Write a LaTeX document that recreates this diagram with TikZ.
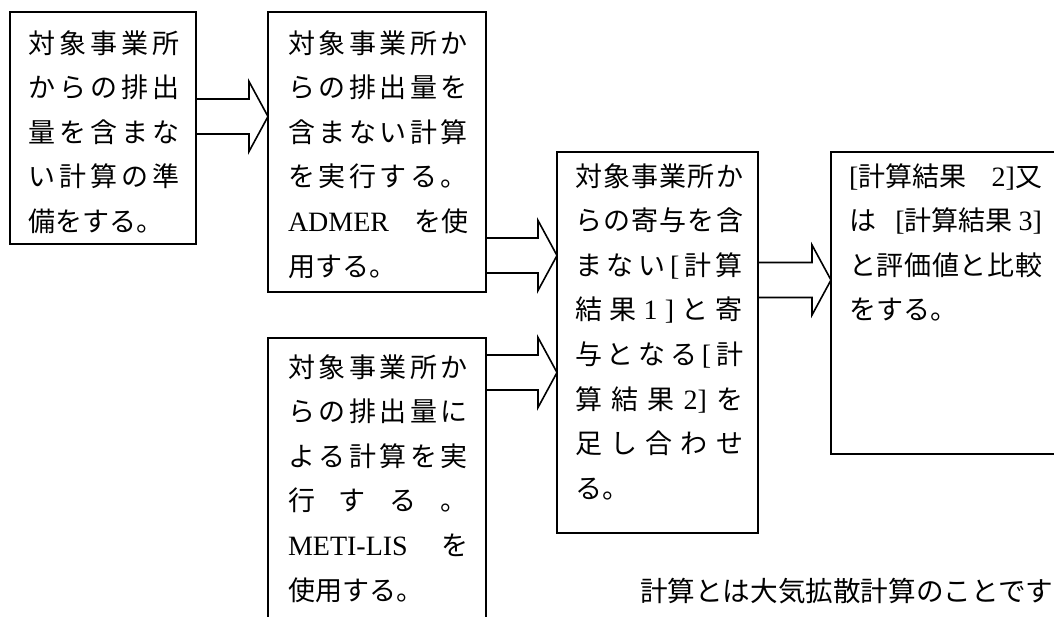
\documentclass[tikz,border=0pt]{standalone}
\usepackage{fontspec}
\setmainfont{Noto Sans CJK JP}
\newfontfamily\latf{Liberation Serif}
\usetikzlibrary{calc}
\makeatletter
\def\spr#1{#1\spr@next}
\def\spr@next#1{\ifx\relax#1\else\hfil#1\expandafter\spr@next\fi}
\makeatother
\newlength\lw
\newcommand\J[1]{\hbox to\lw{\spr#1\relax}}
\newcommand\la{\latf\fontsize{28}{28}\selectfont}
\def\lb{{\la[}}
\def\rb{{\la]}}
\def\one{{\la 1}}
\def\two{{\la 2}}
\def\tworb{{\la 2]}}
\def\three{{\la 3}}
\newcommand\blockarrow[3]{%
  \draw[barrow] ($(#1.east |- #3)+(0,-17.5)$) -- ($(#2.west |- #3)+(-19,-17.5)$)
    -- ($(#2.west |- #3)+(-19,-35)$) -- (#2.west |- #3)
    -- ($(#2.west |- #3)+(-19,35)$) -- ($(#2.west |- #3)+(-19,17.5)$)
    -- ($(#1.east |- #3)+(0,17.5)$);}
\begin{document}
\begin{tikzpicture}[x=1pt,y=-1pt,
  bx/.style={draw, line width=1.6pt, inner sep=0pt, outer sep=0pt, rectangle},
  barrow/.style={draw, line width=1.6pt, line join=miter},
  txt/.style={anchor=base west, inner sep=0pt, outer sep=0pt, font=\fontsize{27}{27}\selectfont}]
\useasboundingbox (0,0) rectangle (1054,616);
\fill[white] (0,0) rectangle (1054,616);
% boxes
\node[bx, minimum width=186pt, minimum height=232pt] (b1) at (103,128) {};
\node[bx, minimum width=218pt, minimum height=280pt] (b2) at (377,152) {};
\node[bx, minimum width=218pt, minimum height=302pt] (b3) at (377,489) {};
\node[bx, minimum width=201pt, minimum height=381pt] (b4) at (657.5,342.5) {};
\node[bx, minimum width=239pt, minimum height=302pt] (b5) at (950.5,303) {};
% arrow axes
\coordinate (a1) at (0,116.5);
\coordinate (a2) at (0,255.5);
\coordinate (a3) at (0,372.5);
\coordinate (a4) at (0,280);
\blockarrow{b1}{b2}{a1}
\blockarrow{b2}{b4}{a2}
\blockarrow{b3}{b4}{a3}
\blockarrow{b4}{b5}{a4}
% texts
\setlength\lw{152pt}
\foreach \t [count=\k from 0] in {{\J{対象事業所}},{\J{からの排出}},{\J{量を含まな}},{\J{い計算の準}},{備をする。}}
  \node[txt] (l1-\k) at (28,53+\k*44.6) {\t};
\setlength\lw{180pt}
\foreach \t [count=\k from 0] in {{\J{対象事業所か}},{\J{らの排出量を}},{\J{含まない計算}},{\J{を実行する。}},{\hbox to\lw{{\la ADMER}\hfil を使}},{用する。}}
  \node[txt] (l2-\k) at (288,53+\k*44.6) {\t};
\foreach \t [count=\k from 0] in {{\J{対象事業所か}},{\J{らの排出量に}},{\J{よる計算を実}},{\J{行する。}},{\hbox to\lw{{\la METI-LIS}\hfil を}},{使用する。}}
  \node[txt] (l3-\k) at (288,377+\k*44.6) {\t};
\setlength\lw{168pt}
\foreach \t [count=\k from 0] in {{\J{対象事業所か}},{\J{らの寄与を含}},{\J{まない\lb 計算}},{\J{結果\one\rb と寄}},{\J{与となる\lb 計}},{\J{算結果\tworb を}},{\J{足し合わせ}},{る。}}
  \node[txt] (l4-\k) at (575,186+\k*44.6) {\t};
\setlength\lw{193pt}
\foreach \t [count=\k from 0] in {{\hbox to\lw{\lb 計算結果\hfil\two\rb 又}},{\hbox to\lw{は\hfil\lb 計算結果 \three\rb}},{\J{と評価値と比較}},{をする。}}
  \node[txt] (l5-\k) at (849,186+\k*44.6) {\t};
\node[txt, font=\fontsize{27.6}{27.6}\selectfont] (note) at (640,601) {計算とは大気拡散計算のことです};
\end{tikzpicture}
\end{document}
